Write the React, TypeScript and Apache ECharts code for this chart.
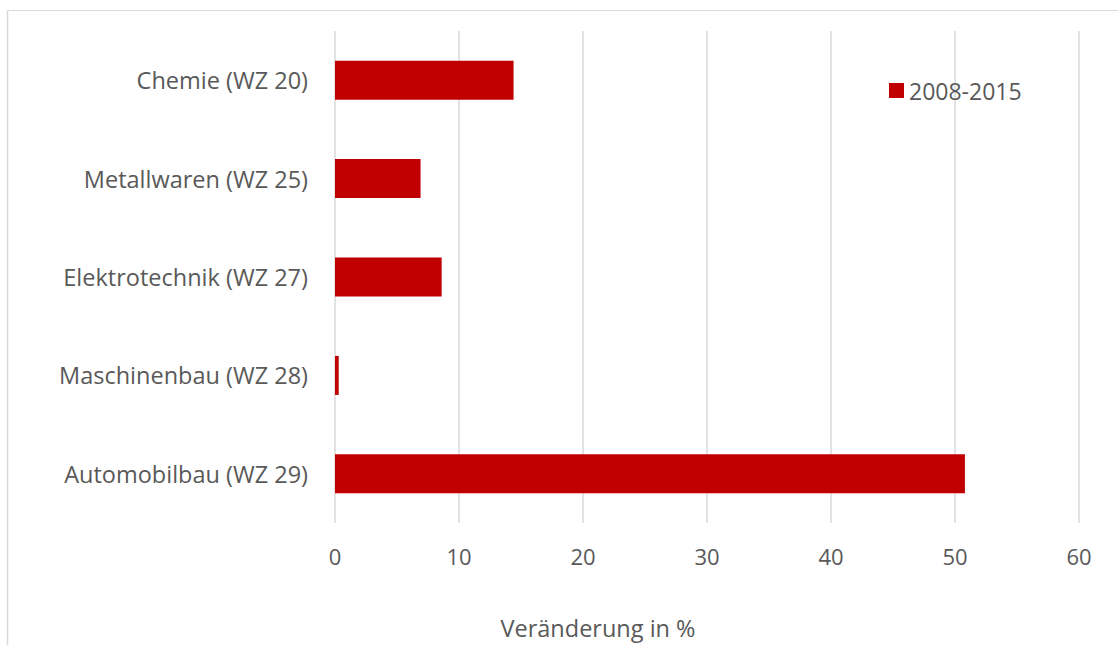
import React, { useEffect, useRef } from "react";
import * as echarts from "echarts";

const categories = [
  "Chemie (WZ 20)",
  "Metallwaren (WZ 25)",
  "Elektrotechnik (WZ 27)",
  "Maschinenbau (WZ 28)",
  "Automobilbau (WZ 29)",
];
const values = [14.4, 6.9, 8.6, 0.3, 50.8];
const seriesName = "2008-2015";
const axisTitle = "Veränderung in %";

const FONT = "'Open Sans', Lato, sans-serif";
const TEXT_COLOR = "#595959";

export default function App() {
  const ref = useRef<HTMLDivElement>(null);
  useEffect(() => {
    if (!ref.current) return;
    const chart = echarts.init(ref.current, null, { renderer: "svg" });
    chart.setOption({
      animation: false,
      backgroundColor: "#ffffff",
      textStyle: { fontFamily: FONT },
      grid: { left: 335, right: 39, top: 31, height: 492, containLabel: false },
      legend: {
        data: [seriesName],
        left: 889,
        top: 79,
        icon: "rect",
        itemWidth: 15,
        itemHeight: 15,
        itemGap: 6,
        textStyle: { color: TEXT_COLOR, fontSize: 23, fontFamily: FONT },
        padding: 0,
      },
      xAxis: {
        type: "value",
        min: 0,
        max: 60,
        interval: 10,
        axisLine: { show: false },
        axisTick: { show: false },
        axisLabel: { color: TEXT_COLOR, fontSize: 22, margin: 22, fontFamily: FONT },
        splitLine: { show: true, lineStyle: { color: "#d9d9d9", width: 1.5 } },
      },
      yAxis: {
        type: "category",
        data: categories,
        inverse: true,
        axisLine: { show: false },
        axisTick: { show: false },
        axisLabel: { color: TEXT_COLOR, fontSize: 23.5, margin: 27, fontFamily: FONT },
        splitLine: { show: false },
      },
      series: [
        {
          name: seriesName,
          type: "bar",
          data: values,
          barWidth: 39,
          itemStyle: { color: "#c00000" },
        },
      ],
      graphic: [
        {
          type: "line",
          shape: { x1: 7.5, y1: 10.5, x2: 1118, y2: 10.5 },
          style: { stroke: "#d9d9d9", lineWidth: 1 },
        },
        {
          type: "line",
          shape: { x1: 7.5, y1: 10.5, x2: 7.5, y2: 645 },
          style: { stroke: "#d9d9d9", lineWidth: 1.5 },
        },
        {
          type: "text",
          x: 598,
          y: 628,
          style: {
            text: axisTitle,
            fill: TEXT_COLOR,
            font: `23.5px ${FONT}`,
            textAlign: "center",
            textVerticalAlign: "middle",
          },
        },
      ],
    });
    return () => chart.dispose();
  }, []);
  return (
    <div
      ref={ref}
      style={{ position: "fixed", left: 0, top: 0, width: 1118, height: 645 }}
    />
  );
}
